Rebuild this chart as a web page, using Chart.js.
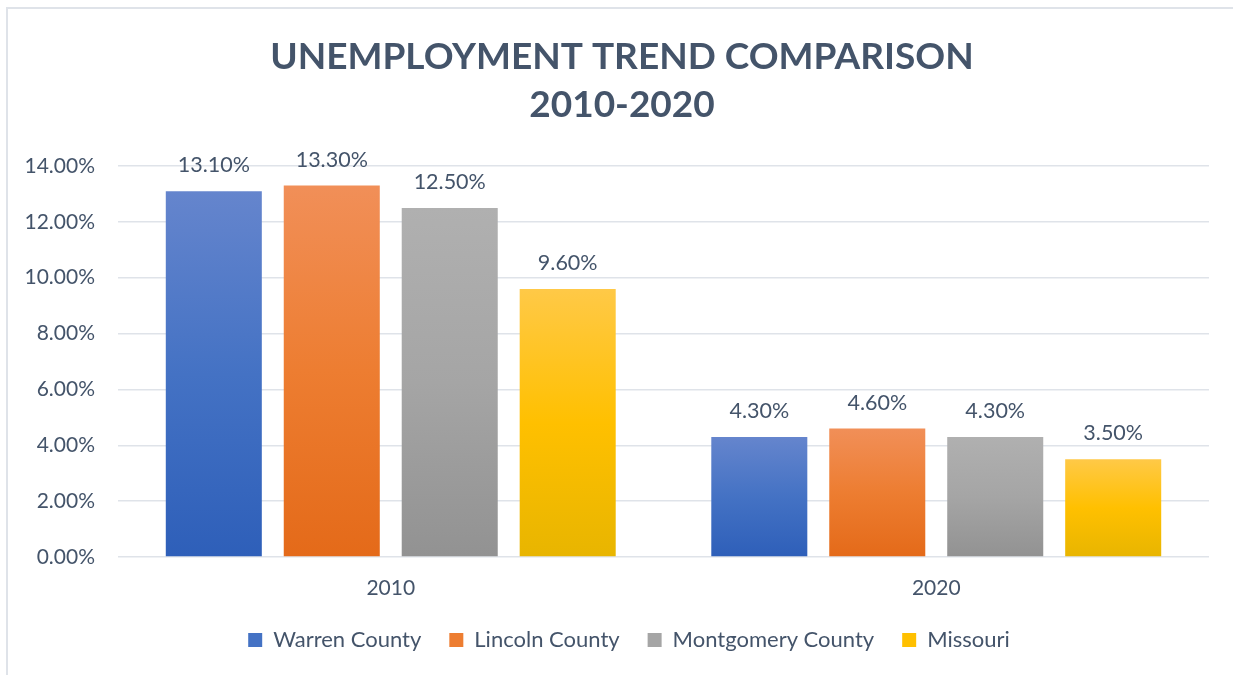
<!DOCTYPE html>
<html>
<head>
<meta charset="utf-8">
<title>Unemployment Trend Comparison</title>
<script src="https://cdn.jsdelivr.net/npm/chart.js@4.4.1/dist/chart.umd.min.js"></script>
<style>
  html, body { margin: 0; padding: 0; background: #fff; overflow: hidden; }
  #wrap { position: relative; width: 1233px; height: 675px; }
  #frame {
    position: absolute; left: 6px; top: 7px; width: 1300px; height: 700px;
    border-left: 2px solid #dfe3e9; border-top: 2px solid #dfe3e9;
  }
  #chart { position: absolute; left: 0; top: 0; }
</style>
</head>
<body>
<div id="wrap">
  <div id="frame"></div>
  <canvas id="chart" width="1233" height="675"></canvas>
</div>
<script>
const years = ['2010', '2020'];
const regions = ['Warren County', 'Lincoln County', 'Montgomery County', 'Missouri'];
const warrenRates = [13.1, 4.3];
const lincolnRates = [13.3, 4.6];
const montgomeryRates = [12.5, 4.3];
const missouriRates = [9.6, 3.5];
const titleLines = ['UNEMPLOYMENT TREND COMPARISON', '2010-2020'];

// light / base / dark stops for each series' vertical gradient
const palette = [
    ['#6585cd', '#4472c4', '#2e5fb9'],
    ['#f18f58', '#ed7d31', '#e46a19'],
    ['#b0b0b0', '#a5a5a5', '#929292'],
    ['#ffc947', '#ffc000', '#e8b500']
];

const textColor = '#44546a';
const fontFamily = 'Lato, "Open Sans", sans-serif';

// Gradient from the top of each bar down to the zero line
function barGradient(stops) {
    return (context) => {
        const chart = context.chart;
        const { ctx, chartArea, scales } = chart;
        if (!chartArea || context.type !== 'data') return stops[1];
        const top = scales.y.getPixelForValue(context.raw);
        const bottom = scales.y.getPixelForValue(0);
        const g = ctx.createLinearGradient(0, top, 0, bottom);
        g.addColorStop(0, stops[0]);
        g.addColorStop(0.5, stops[1]);
        g.addColorStop(1, stops[2]);
        return g;
    };
}

// Two-line heading, centred over the whole frame rather than the plot
const heading = {
    id: 'heading',
    afterDraw(chart) {
        const ctx = chart.ctx;
        ctx.save();
        ctx.font = 'bold 37px ' + fontFamily;
        ctx.fillStyle = textColor;
        ctx.textAlign = 'center';
        ctx.textBaseline = 'middle';
        titleLines.forEach((line, i) => ctx.fillText(line, 622, 57 + i * 48));
        ctx.restore();
    }
};

// Value labels sitting above each bar
const valueLabels = {
    id: 'valueLabels',
    afterDatasetsDraw(chart) {
        const ctx = chart.ctx;
        ctx.save();
        ctx.font = '21.5px ' + fontFamily;
        ctx.fillStyle = textColor;
        ctx.textAlign = 'center';
        ctx.textBaseline = 'alphabetic';
        chart.data.datasets.forEach((ds, i) => {
            const meta = chart.getDatasetMeta(i);
            meta.data.forEach((bar, j) => {
                ctx.fillText(ds.data[j].toFixed(2) + '%', bar.x, bar.y - 19);
            });
        });
        ctx.restore();
    }
};

const seriesData = [warrenRates, lincolnRates, montgomeryRates, missouriRates];

const datasets = regions.map((name, i) => ({
    label: name,
    data: seriesData[i],
    backgroundColor: barGradient(palette[i]),
    borderWidth: 0,
    barPercentage: 0.814,
    categoryPercentage: 0.865
}));

const ctx = document.getElementById('chart').getContext('2d');
new Chart(ctx, {
    type: 'bar',
    data: { labels: years, datasets: datasets },
    plugins: [valueLabels, heading],
    options: {
        responsive: false,
        animation: false,
        layout: { padding: { left: 25, right: 0, top: 166, bottom: 14 } },
        plugins: {
            tooltip: { enabled: false },
            title: { display: false },
            legend: {
                position: 'bottom',
                labels: {
                    color: textColor,
                    font: { family: fontFamily, size: 22 },
                    boxWidth: 14,
                    boxHeight: 14,
                    padding: 28,
                    generateLabels: (chart) => regions.map((name, i) => ({
                        text: name,
                        fillStyle: palette[i][1],
                        strokeStyle: palette[i][1],
                        lineWidth: 0,
                        fontColor: textColor,
                        datasetIndex: i
                    }))
                }
            }
        },
        scales: {
            x: {
                grid: { display: false },
                border: { display: false },
                ticks: { color: textColor, font: { family: fontFamily, size: 21 }, padding: 11 },
                afterFit: (scale) => { scale.height = 44; }
            },
            y: {
                min: 0,
                max: 14,
                grid: { color: '#dfe3e9', lineWidth: 1.5, drawTicks: false },
                border: { display: false },
                ticks: {
                    stepSize: 2,
                    color: textColor,
                    font: { family: fontFamily, size: 21 },
                    padding: 23,
                    callback: (v) => v.toFixed(2) + '%'
                },
                afterFit: (scale) => { scale.width = 93; }
            },
            // empty right-hand margin so the plot stops short of the frame edge
            gutter: {
                type: 'linear',
                position: 'right',
                grid: { display: false },
                border: { display: false },
                ticks: { display: false },
                afterFit: (scale) => { scale.width = 24; }
            }
        }
    }
});
</script>
</body>
</html>
